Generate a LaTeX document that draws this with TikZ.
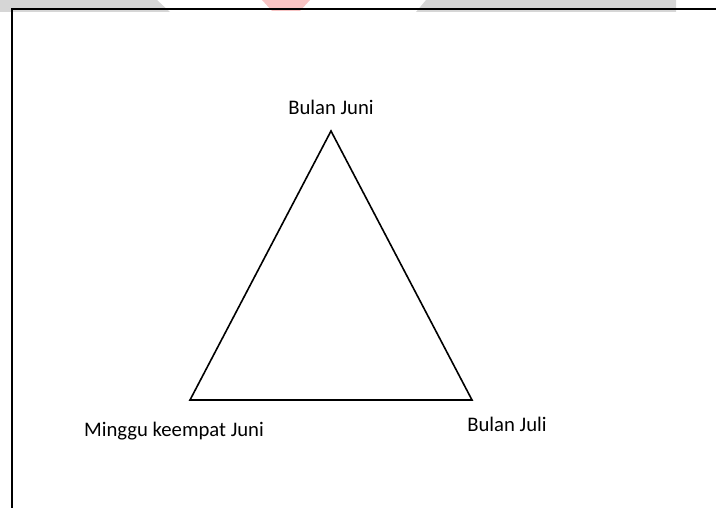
\documentclass[tikz,border=0pt]{standalone}
\usepackage{fontspec}
\setmainfont{Carlito}
\usepackage{xcolor}
\definecolor{bandgray}{RGB}{214,214,214}
\definecolor{markred}{RGB}{248,196,196}
\usetikzlibrary{positioning}

\begin{document}
\begin{tikzpicture}[
    x=1pt, y=-1pt,
    every node/.style={align=center, font=\fontsize{20.7}{24}\selectfont, inner sep=0pt},
    side/.style={draw=black, line width=1.6pt, line join=miter}
]
\useasboundingbox (0,0) rectangle (716,508);
% top band
\fill[bandgray] (0,0) -- (157,0) -- (170,12) -- (0,12) -- cycle;
\fill[markred] (262,0) -- (310,0) -- (300,11) -- (272,11) -- cycle;
\fill[bandgray] (426,0) -- (676,0) -- (676,12) -- (416,12) -- cycle;
% frame
\draw[line width=1.8pt] (12,508) -- (12,9) -- (716,9);

% corners
\coordinate (top) at (331,131);
\coordinate (left) at (190,400);
\coordinate (right) at (472,400);
\draw[side] (top) -- (left) -- (right) -- cycle;

\node (juni) at (331,107) {Bulan Juni};
\node (minggu) at (174,431) {Minggu keempat Juni};
\node (juli) at (507,424) {Bulan Juli};
\end{tikzpicture}
\end{document}
